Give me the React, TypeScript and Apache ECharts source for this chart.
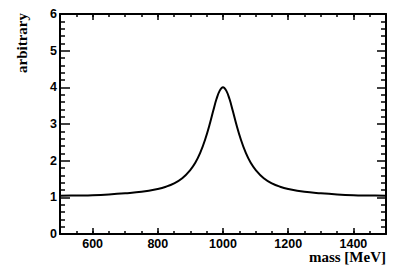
import React, { useEffect, useRef } from "react";
import * as echarts from "echarts";

const masses = [500, 550, 600, 650, 700, 750, 800, 825, 850, 875, 900, 915, 930, 945, 960, 970, 980, 990, 1000, 1010, 1020, 1030, 1040, 1055, 1070, 1085, 1100, 1125, 1150, 1175, 1200, 1250, 1300, 1350, 1400, 1450, 1500];
const values = [1.04, 1.05, 1.06, 1.08, 1.11, 1.15, 1.23, 1.29, 1.38, 1.52, 1.75, 1.94, 2.21, 2.57, 3.02, 3.36, 3.68, 3.91, 4.0, 3.91, 3.68, 3.36, 3.02, 2.57, 2.21, 1.94, 1.75, 1.52, 1.38, 1.29, 1.23, 1.15, 1.11, 1.08, 1.06, 1.05, 1.04];
const xMajorTicks = [600, 800, 1000, 1200, 1400];
const xTitle = "mass [MeV]";
const yTitle = "arbitrary";

const LABEL_FONT = "'Liberation Sans', Arial, Helvetica, sans-serif";
const TITLE_FONT = "'Liberation Serif', 'Times New Roman', serif";

export default function App() {
  const ref = useRef<HTMLDivElement>(null);
  useEffect(() => {
    if (!ref.current) return;
    const chart = echarts.init(ref.current, undefined, { renderer: "svg" });
    const black = "#000";
    const baseX = {
      type: "value" as const,
      min: 500,
      max: 1500,
      splitLine: { show: false },
    };
    const baseY = {
      type: "value" as const,
      min: 0,
      max: 6,
      interval: 1,
      splitLine: { show: false },
    };
    chart.setOption({
      animation: false,
      backgroundColor: "#fff",
      grid: { left: 60, top: 14, right: 21, bottom: 42, containLabel: false },
      xAxis: [
        {
          ...baseX,
          position: "bottom",
          interval: 50,
          axisLine: { show: true, lineStyle: { color: black, width: 2 } },
          axisTick: { show: true, inside: true, length: 3, lineStyle: { color: black, width: 1.5 } },
          axisLabel: { show: false },
        },
        {
          ...baseX,
          position: "bottom",
          axisLine: { show: false },
          axisTick: { show: true, inside: true, length: 6, customValues: xMajorTicks, lineStyle: { color: black, width: 1.5 } },
          axisLabel: {
            show: true,
            customValues: xMajorTicks,
            formatter: (v: number) => String(v),
            margin: 3,
            color: black,
            fontFamily: LABEL_FONT,
            fontWeight: "bold",
            fontSize: 12.5,
          },
        },
        {
          ...baseX,
          position: "top",
          interval: 50,
          axisLine: { show: true, lineStyle: { color: black, width: 2 } },
          axisTick: { show: true, inside: true, length: 3, lineStyle: { color: black, width: 1.5 } },
          axisLabel: { show: false },
        },
        {
          ...baseX,
          position: "top",
          axisLine: { show: false },
          axisTick: { show: true, inside: true, length: 6, customValues: xMajorTicks, lineStyle: { color: black, width: 1.5 } },
          axisLabel: { show: false },
        },
      ],
      yAxis: [
        {
          ...baseY,
          position: "left",
          axisLine: { show: true, lineStyle: { color: black, width: 2 } },
          axisTick: { show: true, inside: true, length: 10, lineStyle: { color: black, width: 1.5 } },
          minorTick: { show: true, splitNumber: 5, length: 5, lineStyle: { color: black, width: 1.5 } },
          minorSplitLine: { show: false },
          axisLabel: {
            show: true,
            margin: 3,
            color: black,
            fontFamily: LABEL_FONT,
            fontWeight: "bold",
            fontSize: 12.5,
          },
        },
        {
          ...baseY,
          position: "right",
          axisLine: { show: true, lineStyle: { color: black, width: 2 } },
          axisTick: { show: true, inside: true, length: 9, lineStyle: { color: black, width: 1.5 } },
          minorTick: { show: true, splitNumber: 5, length: 5, lineStyle: { color: black, width: 1.5 } },
          minorSplitLine: { show: false },
          axisLabel: { show: false },
        },
      ],
      series: [
        {
          type: "line",
          xAxisIndex: 0,
          yAxisIndex: 0,
          data: masses.map((m, i) => [m, values[i]]),
          showSymbol: false,
          smooth: 0.4,
          lineStyle: { color: black, width: 2 },
          clip: true,
        },
      ],
      graphic: [
        {
          type: "text",
          x: 386,
          y: 257,
          style: {
            text: xTitle,
            fill: black,
            font: `bold 15px ${TITLE_FONT}`,
            textAlign: "right",
            textVerticalAlign: "middle",
          },
        },
        {
          type: "text",
          x: 22,
          y: 13,
          rotation: Math.PI / 2,
          style: {
            text: yTitle,
            fill: black,
            font: `bold 15px ${TITLE_FONT}`,
            textAlign: "right",
            textVerticalAlign: "middle",
          },
        },
      ],
    });
    return () => chart.dispose();
  }, []);
  return (
    <div
      ref={ref}
      style={{ position: "fixed", left: 0, top: 0, width: 407, height: 276, background: "#fff" }}
    />
  );
}
